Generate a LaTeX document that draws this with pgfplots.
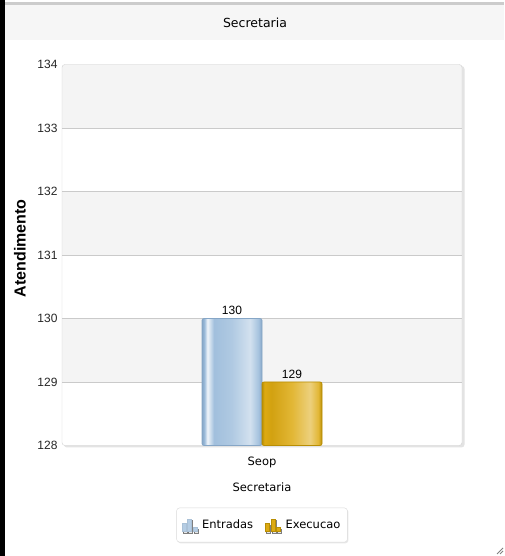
\documentclass[border=0pt]{standalone}
\usepackage{fontspec}
\setmainfont{Liberation Sans}
\newfontfamily\dejavu{DejaVu Sans}
\usepackage{pgfplots}
\pgfplotsset{compat=1.18}
\usetikzlibrary{shadows}
\definecolor{band}{HTML}{F4F4F4}
\definecolor{titleband}{HTML}{F6F6F6}
\definecolor{gridc}{HTML}{CACACA}
\definecolor{framec}{HTML}{D2D2D2}
\definecolor{blueE}{HTML}{9CBCDB}
\definecolor{blueB}{HTML}{86A6C6}
\definecolor{yelE}{HTML}{DDAA12}
\definecolor{yelB}{HTML}{B88E04}
\pgfdeclarehorizontalshading{bluebar}{100bp}{
  color(0bp)=(blueB); color(25bp)=(blueB); color(27bp)=(blueE);
  color(29.5bp)=(white!85!blueE); color(35bp)=(blueE!95!white);
  color(50bp)=(blueE!80!white); color(65bp)=(blueE!45!white);
  color(72bp)=(blueE!90!white); color(75bp)=(blueB); color(100bp)=(blueB)}
\pgfdeclarehorizontalshading{yelbar}{100bp}{
  color(0bp)=(yelB); color(25bp)=(yelB); color(27bp)=(yelE);
  color(33bp)=(yelE!95!black); color(50bp)=(yelE!85!white);
  color(65bp)=(yelE!55!white); color(72bp)=(yelE!85!white);
  color(75bp)=(yelB); color(100bp)=(yelB)}
\begin{document}
\begin{tikzpicture}[x=1pt,y=1pt]
\path[use as bounding box] (0,0) rectangle (504,556);
\fill[white] (0,0) rectangle (504,556);
\fill[titleband] (5,516) rectangle (504,551);
\fill[gray!40] (5,551) rectangle (504,554);
\fill[black] (0,0) rectangle (5,556);
\node[font=\dejavu\fontsize{12.5}{13}\selectfont] at (255,533) {Secretaria};
% plot frame with shadow
\fill[gray!22, rounded corners=3pt] (64,108.5) rectangle (464.5,490);
\fill[white, rounded corners=3pt] (62,110.5) rectangle (462,491.5);
\begin{scope}
\clip[rounded corners=3pt] (62,110.5) rectangle (462,491.5);
\fill[band] (62,428) rectangle (462,491.5);
\fill[band] (62,301) rectangle (462,364.5);
\fill[band] (62,174) rectangle (462,237.5);
\end{scope}
\draw[framec, rounded corners=3pt] (62,110.5) rectangle (462,491.5);
\begin{axis}[
  at={(62pt,110.5pt)}, anchor=south west,
  scale only axis, width=400pt, height=381pt,
  xmin=-1, xmax=1, ymin=128, ymax=134,
  ytick={129,...,133}, extra y ticks={128,134}, extra y tick style={grid=none},
  xtick={0}, xticklabels={Seop},
  axis line style={draw=none},
  major tick length=0pt,
  ymajorgrids, grid style={gridc, line width=0.9pt},
  /pgf/number format/assume math mode=true,
  yticklabel style={font=\fontsize{12}{12}\selectfont, anchor=east, xshift=-1pt, color=black!85},
  xticklabel style={font=\dejavu\fontsize{11.5}{12}\selectfont, yshift=-8pt},
  xlabel={Secretaria},
  xlabel style={font=\dejavu\fontsize{11.5}{12}\selectfont, at={(axis description cs:0.5,0)}, anchor=center, yshift=-42pt},
  ylabel={Atendimento},
  ylabel style={font=\bfseries\fontsize{16}{16}\selectfont, at={(axis description cs:-0.105,0.518)}, anchor=center},
  legend columns=2,
  legend style={at={(0.5,-0.2087)}, anchor=center, draw=gray!30, rounded corners=3pt,
    drop shadow={shadow xshift=1pt, shadow yshift=-1.2pt, fill=gray!35},
    fill=white,
    font=\dejavu\fontsize{11.5}{12}\selectfont, inner xsep=5pt, inner ysep=10pt,
    /tikz/every odd column/.append style={column sep=3pt},
    /tikz/every even column/.append style={column sep=10pt}},
  clip=true,
]
\addplot[forget plot, draw=blueB, line width=0.8pt, shading=bluebar, rounded corners=2pt]
  coordinates {(-0.3,128) (-0.3,130) (0,130) (0,128)} -- cycle;
\addplot[forget plot, draw=yelB, line width=0.8pt, shading=yelbar, rounded corners=2pt]
  coordinates {(0,128) (0,129) (0.3,129) (0.3,128)} -- cycle;
\addlegendimage{legend image code/.code={
    \begin{scope}[sharp corners]
    \draw[draw=blueB!70, fill=blueE!75, line width=0.4pt] (0pt,-6.5pt) rectangle (4pt,1.5pt);
    \draw[draw=blueB!70, fill=blueE!75, line width=0.4pt] (5.5pt,-6.5pt) rectangle (9.5pt,6pt);
    \draw[draw=blueB!70, fill=blueE!75, line width=0.4pt] (11pt,-6.5pt) rectangle (15pt,-2.5pt);
    \end{scope}
  }}
\addlegendentry{Entradas}
\addlegendimage{legend image code/.code={
    \begin{scope}[sharp corners]
    \draw[draw=yelB, fill=yelE, line width=0.4pt] (0pt,-6.5pt) rectangle (4pt,1.5pt);
    \draw[draw=yelB, fill=yelE, line width=0.4pt] (5.5pt,-6.5pt) rectangle (9.5pt,6pt);
    \draw[draw=yelB, fill=yelE, line width=0.4pt] (11pt,-6.5pt) rectangle (15pt,-2.5pt);
    \end{scope}
  }}
\addlegendentry{Execucao}
\addplot[draw=none, mark=none, forget plot, nodes near coords,
  every node near coord/.append style={font=\fontsize{12}{12}\selectfont, color=black, anchor=south}]
  coordinates {(-0.15,130) (0.15,129)};
\end{axis}
\draw[gray, line width=0.8pt] (497,2) -- (503,8);
\draw[gray, line width=0.8pt] (500,2) -- (503,5);
\end{tikzpicture}
\end{document}
